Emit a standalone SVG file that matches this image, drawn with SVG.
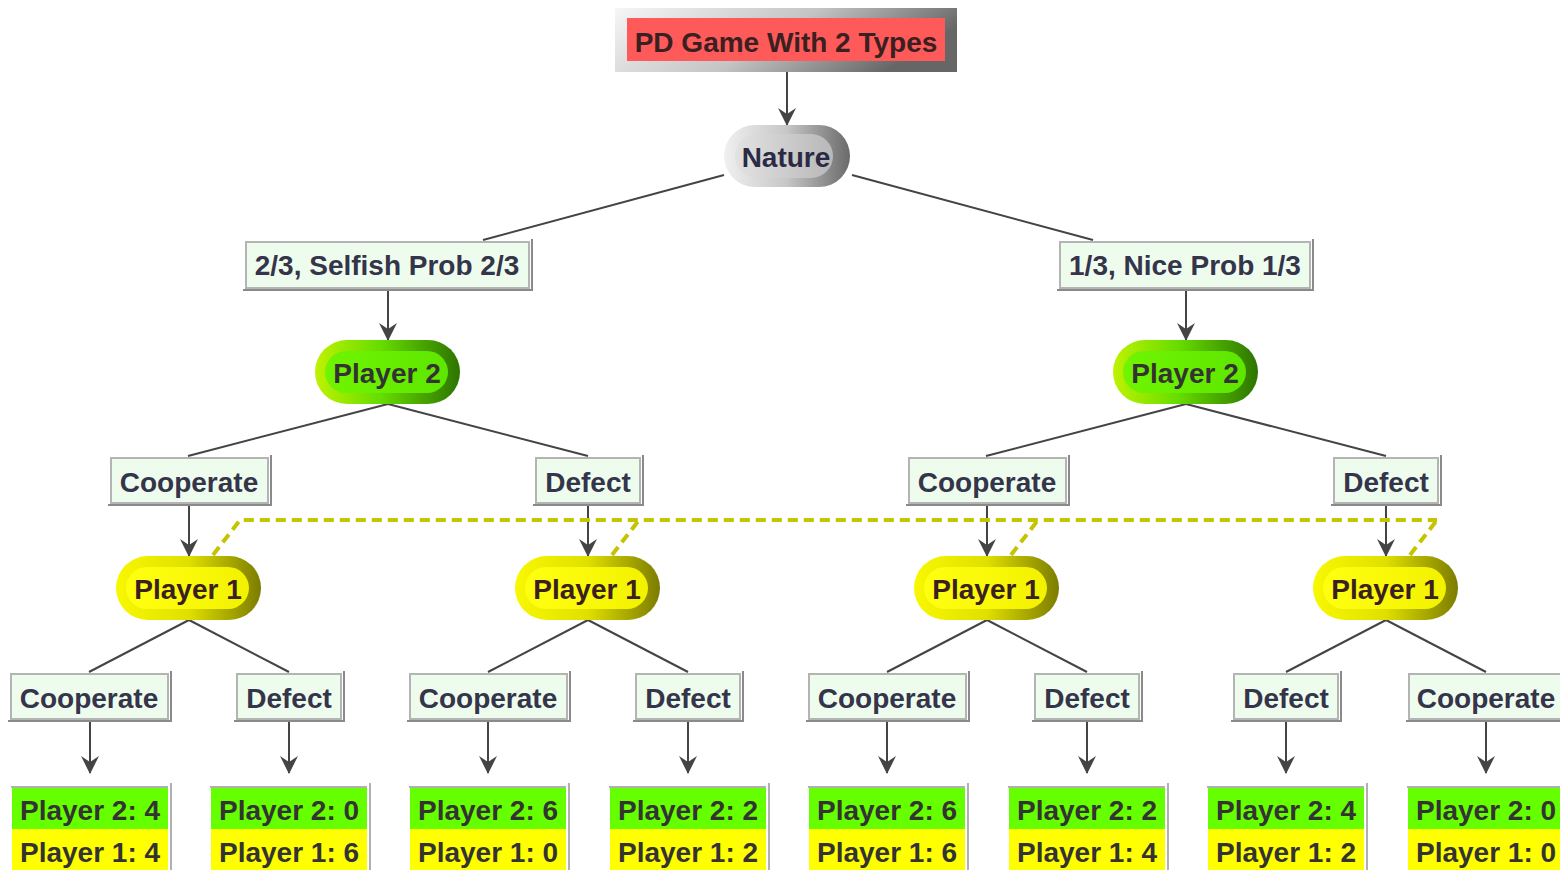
<svg xmlns="http://www.w3.org/2000/svg" width="1560" height="870" viewBox="0 0 1560 870">
  <defs>
    <style>
      .txt { font-family: "Liberation Sans", Arial, sans-serif; font-weight: bold; font-size: 28px; text-anchor: middle; fill: #34344a; }
      .pay { font-family: "Liberation Sans", Arial, sans-serif; font-weight: bold; font-size: 28px; fill: #333333; }
      .edge { stroke: #444444; stroke-width: 2; fill: none; }
      .arrow { stroke: #444444; stroke-width: 2; fill: none; marker-end: url(#head); }
      .lbl { fill: #eefcee; stroke: #b4b4b4; stroke-width: 2; }
      .lblsh { stroke: #8a8a8a; stroke-width: 2; fill: none; }
      .info { stroke: #c4c400; stroke-width: 4; fill: none; stroke-dasharray: 10 6; }
      .p2 { fill: #66ff00; }
      .p1 { fill: #ffff00; }
      .payline { stroke: #b0b0b0; stroke-width: 2; fill: none; }
    </style>
    <marker id="head" viewBox="0 0 18 18" refX="17" refY="9" markerWidth="18" markerHeight="18" markerUnits="userSpaceOnUse" orient="auto">
      <path d="M0,0 L18,9 L0,18 L6,9 z" fill="#444444"/>
    </marker>
    <linearGradient id="gTitle" x1="0" y1="0" x2="1" y2="0.3">
      <stop offset="0" stop-color="#f6f6f6"/>
      <stop offset="0.55" stop-color="#c4c4c4"/>
      <stop offset="1" stop-color="#666666"/>
    </linearGradient>
    <linearGradient id="gNatureOut" x1="0" y1="0" x2="1" y2="0">
      <stop offset="0" stop-color="#f0f0f0"/>
      <stop offset="0.5" stop-color="#c6c6c6"/>
      <stop offset="1" stop-color="#6a6a6a"/>
    </linearGradient>
    <linearGradient id="gNatureIn" x1="0" y1="0" x2="1" y2="0">
      <stop offset="0" stop-color="#e2e2e2"/>
      <stop offset="1" stop-color="#b8b8b8"/>
    </linearGradient>
    <linearGradient id="gP2Out" x1="0" y1="0" x2="1" y2="0">
      <stop offset="0" stop-color="#bff200"/>
      <stop offset="0.45" stop-color="#66dd00"/>
      <stop offset="1" stop-color="#2d7400"/>
    </linearGradient>
    <linearGradient id="gP2In" x1="0" y1="0" x2="1" y2="0">
      <stop offset="0" stop-color="#70f400"/>
      <stop offset="1" stop-color="#5ee600"/>
    </linearGradient>
    <linearGradient id="gP1Out" x1="0" y1="0" x2="1" y2="0">
      <stop offset="0" stop-color="#f8f800"/>
      <stop offset="0.5" stop-color="#e0e000"/>
      <stop offset="1" stop-color="#7c7c00"/>
    </linearGradient>
    <linearGradient id="gP1In" x1="0" y1="0" x2="1" y2="0">
      <stop offset="0" stop-color="#ffff10"/>
      <stop offset="1" stop-color="#f2f200"/>
    </linearGradient>
  </defs>

  <rect width="1560" height="870" fill="#ffffff"/>

  <!-- tree edges, arrows and the information set -->
  <g id="connectors">
    <line class="arrow" x1="787" y1="72" x2="787" y2="125"/>
    <line class="edge" x1="724" y1="175" x2="483" y2="240"/>
    <line class="edge" x1="852" y1="175" x2="1093" y2="240"/>
    <line class="arrow" x1="388" y1="290" x2="388" y2="340"/>
    <line class="arrow" x1="1186" y1="290" x2="1186" y2="340"/>

    <line class="edge" x1="388" y1="404" x2="188" y2="456"/>
    <line class="edge" x1="388" y1="404" x2="588" y2="456"/>
    <line class="edge" x1="1186" y1="404" x2="986" y2="456"/>
    <line class="edge" x1="1186" y1="404" x2="1386" y2="456"/>

    <line class="arrow" x1="189" y1="505" x2="189" y2="556"/>
    <line class="arrow" x1="588" y1="505" x2="588" y2="556"/>
    <line class="arrow" x1="987" y1="505" x2="987" y2="556"/>
    <line class="arrow" x1="1386" y1="505" x2="1386" y2="556"/>

    <line class="edge" x1="189" y1="620" x2="89" y2="672"/>
    <line class="edge" x1="189" y1="620" x2="289" y2="672"/>
    <line class="edge" x1="588" y1="620" x2="488" y2="672"/>
    <line class="edge" x1="588" y1="620" x2="688" y2="672"/>
    <line class="edge" x1="987" y1="620" x2="887" y2="672"/>
    <line class="edge" x1="987" y1="620" x2="1087" y2="672"/>
    <line class="edge" x1="1386" y1="620" x2="1286" y2="672"/>
    <line class="edge" x1="1386" y1="620" x2="1486" y2="672"/>

    <line class="arrow" x1="90" y1="721" x2="90" y2="773"/>
    <line class="arrow" x1="289" y1="721" x2="289" y2="773"/>
    <line class="arrow" x1="488" y1="721" x2="488" y2="773"/>
    <line class="arrow" x1="688" y1="721" x2="688" y2="773"/>
    <line class="arrow" x1="887" y1="721" x2="887" y2="773"/>
    <line class="arrow" x1="1087" y1="721" x2="1087" y2="773"/>
    <line class="arrow" x1="1286" y1="721" x2="1286" y2="773"/>
    <line class="arrow" x1="1486" y1="721" x2="1486" y2="773"/>

    <!-- Player 1 information set -->
    <path class="info" d="M213,555 L240,520 L1437,520"/>
    <line class="info" x1="612" y1="555" x2="639" y2="520"/>
    <line class="info" x1="1011" y1="555" x2="1038" y2="520"/>
    <line class="info" x1="1410" y1="555" x2="1437" y2="520"/>
  </g>

  <!-- root title -->
  <g id="title">
    <rect x="615" y="8" width="342" height="64" fill="url(#gTitle)"/>
    <rect x="627" y="18" width="318" height="43" fill="#ff5a5a"/>
    <text class="txt" x="786" y="52" style="fill:#3a2020">PD Game With 2 Types</text>
  </g>

  <!-- chance node -->
  <g id="nature">
    <rect x="724" y="125" width="126" height="62" rx="31" fill="url(#gNatureOut)"/>
    <rect x="735" y="134" width="98" height="44" rx="22" fill="url(#gNatureIn)"/>
    <text class="txt" x="786" y="167" style="fill:#2a2a44">Nature</text>
  </g>

  <!-- type labels -->
  <g id="type-selfish">
    <rect class="lbl" x="246" y="242" width="283" height="46"/>
    <polyline class="lblsh" points="532,239 532,290 243,290"/>
    <text class="txt" x="387" y="275">2/3, Selfish Prob 2/3</text>
  </g>
  <g id="type-nice">
    <rect class="lbl" x="1060" y="242" width="250" height="46"/>
    <polyline class="lblsh" points="1313,239 1313,290 1057,290"/>
    <text class="txt" x="1185" y="275">1/3, Nice Prob 1/3</text>
  </g>

  <!-- Player 2 decision nodes -->
  <g id="p2-selfish">
    <rect x="315" y="340" width="145" height="64" rx="32" fill="url(#gP2Out)"/>
    <rect x="325" y="351" width="123" height="42" rx="21" fill="url(#gP2In)"/>
    <text class="txt" x="387" y="383" style="fill:#333333">Player 2</text>
  </g>
  <g id="p2-nice">
    <rect x="1113" y="340" width="145" height="64" rx="32" fill="url(#gP2Out)"/>
    <rect x="1123" y="351" width="123" height="42" rx="21" fill="url(#gP2In)"/>
    <text class="txt" x="1185" y="383" style="fill:#333333">Player 2</text>
  </g>

  <!-- Player 2 actions -->
  <g id="a2-selfish-c">
    <rect class="lbl" x="111" y="458" width="157" height="45"/>
    <polyline class="lblsh" points="271,455 271,505 108,505"/>
    <text class="txt" x="189" y="492">Cooperate</text>
  </g>
  <g id="a2-selfish-d">
    <rect class="lbl" x="536" y="458" width="104" height="45"/>
    <polyline class="lblsh" points="643,455 643,505 533,505"/>
    <text class="txt" x="588" y="492">Defect</text>
  </g>
  <g id="a2-nice-c">
    <rect class="lbl" x="909" y="458" width="157" height="45"/>
    <polyline class="lblsh" points="1069,455 1069,505 906,505"/>
    <text class="txt" x="987" y="492">Cooperate</text>
  </g>
  <g id="a2-nice-d">
    <rect class="lbl" x="1334" y="458" width="104" height="45"/>
    <polyline class="lblsh" points="1441,455 1441,505 1331,505"/>
    <text class="txt" x="1386" y="492">Defect</text>
  </g>

  <!-- Player 1 decision nodes -->
  <g id="p1-a">
    <rect x="116" y="556" width="145" height="64" rx="32" fill="url(#gP1Out)"/>
    <rect x="126" y="567" width="123" height="42" rx="21" fill="url(#gP1In)"/>
    <text class="txt" x="188" y="599" style="fill:#3a2020">Player 1</text>
  </g>
  <g id="p1-b">
    <rect x="515" y="556" width="145" height="64" rx="32" fill="url(#gP1Out)"/>
    <rect x="525" y="567" width="123" height="42" rx="21" fill="url(#gP1In)"/>
    <text class="txt" x="587" y="599" style="fill:#3a2020">Player 1</text>
  </g>
  <g id="p1-c">
    <rect x="914" y="556" width="145" height="64" rx="32" fill="url(#gP1Out)"/>
    <rect x="924" y="567" width="123" height="42" rx="21" fill="url(#gP1In)"/>
    <text class="txt" x="986" y="599" style="fill:#3a2020">Player 1</text>
  </g>
  <g id="p1-d">
    <rect x="1313" y="556" width="145" height="64" rx="32" fill="url(#gP1Out)"/>
    <rect x="1323" y="567" width="123" height="42" rx="21" fill="url(#gP1In)"/>
    <text class="txt" x="1385" y="599" style="fill:#3a2020">Player 1</text>
  </g>

  <!-- Player 1 actions -->
  <g id="a1-a-c">
    <rect class="lbl" x="11" y="674" width="157" height="45"/>
    <polyline class="lblsh" points="171,671 171,721 8,721"/>
    <text class="txt" x="89" y="708">Cooperate</text>
  </g>
  <g id="a1-a-d">
    <rect class="lbl" x="237" y="674" width="104" height="45"/>
    <polyline class="lblsh" points="344,671 344,721 234,721"/>
    <text class="txt" x="289" y="708">Defect</text>
  </g>
  <g id="a1-b-c">
    <rect class="lbl" x="410" y="674" width="157" height="45"/>
    <polyline class="lblsh" points="570,671 570,721 407,721"/>
    <text class="txt" x="488" y="708">Cooperate</text>
  </g>
  <g id="a1-b-d">
    <rect class="lbl" x="636" y="674" width="104" height="45"/>
    <polyline class="lblsh" points="743,671 743,721 633,721"/>
    <text class="txt" x="688" y="708">Defect</text>
  </g>
  <g id="a1-c-c">
    <rect class="lbl" x="809" y="674" width="157" height="45"/>
    <polyline class="lblsh" points="969,671 969,721 806,721"/>
    <text class="txt" x="887" y="708">Cooperate</text>
  </g>
  <g id="a1-c-d">
    <rect class="lbl" x="1035" y="674" width="104" height="45"/>
    <polyline class="lblsh" points="1142,671 1142,721 1032,721"/>
    <text class="txt" x="1087" y="708">Defect</text>
  </g>
  <g id="a1-d-d">
    <rect class="lbl" x="1234" y="674" width="104" height="45"/>
    <polyline class="lblsh" points="1341,671 1341,721 1231,721"/>
    <text class="txt" x="1286" y="708">Defect</text>
  </g>
  <g id="a1-d-c">
    <rect class="lbl" x="1409" y="674" width="157" height="45"/>
    <polyline class="lblsh" points="1569,671 1569,721 1406,721"/>
    <text class="txt" x="1486" y="708">Cooperate</text>
  </g>

  <!-- payoffs -->
  <g id="pay-1">
    <rect class="p2" x="12" y="787" width="156" height="42"/>
    <rect class="p1" x="12" y="829" width="156" height="41"/>
    <line class="payline" x1="11" y1="787" x2="168" y2="787"/>
    <line class="payline" x1="171" y1="783" x2="171" y2="870"/>
    <text class="pay" x="20" y="820">Player 2: 4</text>
    <text class="pay" x="20" y="862">Player 1: 4</text>
  </g>
  <g id="pay-2">
    <rect class="p2" x="211" y="787" width="156" height="42"/>
    <rect class="p1" x="211" y="829" width="156" height="41"/>
    <line class="payline" x1="210" y1="787" x2="367" y2="787"/>
    <line class="payline" x1="370" y1="783" x2="370" y2="870"/>
    <text class="pay" x="219" y="820">Player 2: 0</text>
    <text class="pay" x="219" y="862">Player 1: 6</text>
  </g>
  <g id="pay-3">
    <rect class="p2" x="410" y="787" width="156" height="42"/>
    <rect class="p1" x="410" y="829" width="156" height="41"/>
    <line class="payline" x1="409" y1="787" x2="566" y2="787"/>
    <line class="payline" x1="569" y1="783" x2="569" y2="870"/>
    <text class="pay" x="418" y="820">Player 2: 6</text>
    <text class="pay" x="418" y="862">Player 1: 0</text>
  </g>
  <g id="pay-4">
    <rect class="p2" x="610" y="787" width="156" height="42"/>
    <rect class="p1" x="610" y="829" width="156" height="41"/>
    <line class="payline" x1="609" y1="787" x2="766" y2="787"/>
    <line class="payline" x1="769" y1="783" x2="769" y2="870"/>
    <text class="pay" x="618" y="820">Player 2: 2</text>
    <text class="pay" x="618" y="862">Player 1: 2</text>
  </g>
  <g id="pay-5">
    <rect class="p2" x="809" y="787" width="156" height="42"/>
    <rect class="p1" x="809" y="829" width="156" height="41"/>
    <line class="payline" x1="808" y1="787" x2="965" y2="787"/>
    <line class="payline" x1="968" y1="783" x2="968" y2="870"/>
    <text class="pay" x="817" y="820">Player 2: 6</text>
    <text class="pay" x="817" y="862">Player 1: 6</text>
  </g>
  <g id="pay-6">
    <rect class="p2" x="1009" y="787" width="156" height="42"/>
    <rect class="p1" x="1009" y="829" width="156" height="41"/>
    <line class="payline" x1="1008" y1="787" x2="1165" y2="787"/>
    <line class="payline" x1="1168" y1="783" x2="1168" y2="870"/>
    <text class="pay" x="1017" y="820">Player 2: 2</text>
    <text class="pay" x="1017" y="862">Player 1: 4</text>
  </g>
  <g id="pay-7">
    <rect class="p2" x="1208" y="787" width="156" height="42"/>
    <rect class="p1" x="1208" y="829" width="156" height="41"/>
    <line class="payline" x1="1207" y1="787" x2="1364" y2="787"/>
    <line class="payline" x1="1367" y1="783" x2="1367" y2="870"/>
    <text class="pay" x="1216" y="820">Player 2: 4</text>
    <text class="pay" x="1216" y="862">Player 1: 2</text>
  </g>
  <g id="pay-8">
    <rect class="p2" x="1408" y="787" width="156" height="42"/>
    <rect class="p1" x="1408" y="829" width="156" height="41"/>
    <line class="payline" x1="1407" y1="787" x2="1564" y2="787"/>
    <text class="pay" x="1416" y="820">Player 2: 0</text>
    <text class="pay" x="1416" y="862">Player 1: 0</text>
  </g>
</svg>
